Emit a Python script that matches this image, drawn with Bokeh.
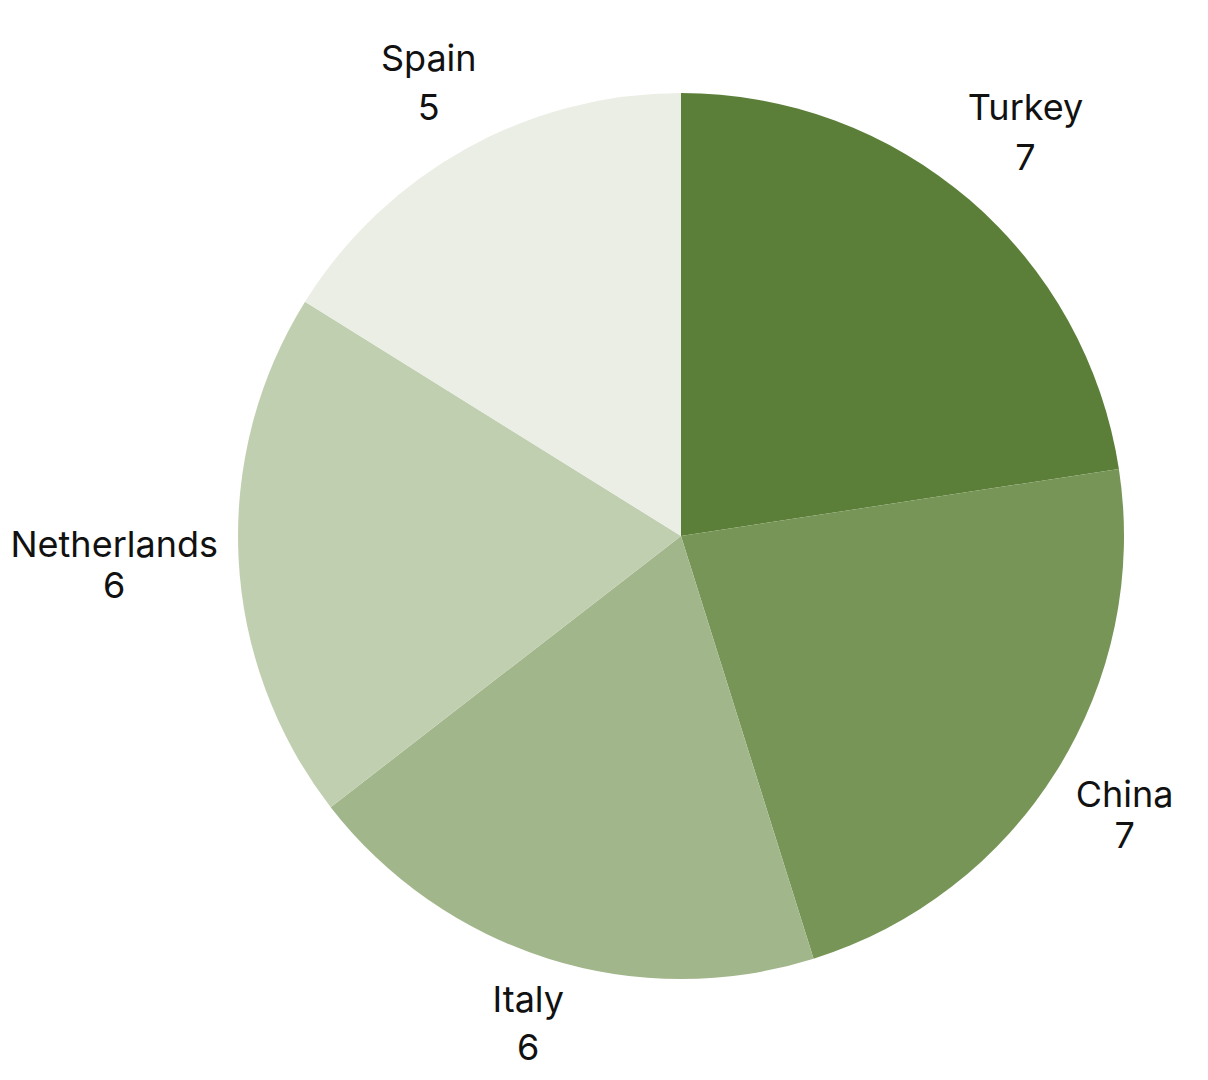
import math
from bokeh.plotting import figure
from bokeh.models import Range1d, ColumnDataSource
from bokeh.core.properties import value
from bokeh.embed import file_html
from bokeh.resources import INLINE

# ---- data ----
countries = ["Turkey", "China", "Italy", "Netherlands", "Spain"]
counts = [7, 7, 6, 6, 5]
colors = ["#5b7f38", "#779556", "#a2b68b", "#c1cfb1", "#ebeee5"]

# ---- layout / style ----
W, H = 1192, 1064
CX, CY = 680.5, H - 535.5   # pie centre (plot units = pixels)
R = 443.0
label_r = [1.18, 1.196, 1.182, 1.281, 1.15]   # label radius factors
label_dx = [4, -6, 4, 0, -5]                  # small label nudges (px)
label_dy = [7, 2, 13, 0, 8]
line_gap = [50, 41, 48, 41, 49]                # gap between name and value lines
FONT = "Inter"
FSIZE = "36px"

total = float(sum(counts))
starts, ends, mids = [], [], []
cum = 0.0
for c in counts:
    a0 = 90.0 - cum / total * 360.0
    cum += c
    a1 = 90.0 - cum / total * 360.0
    starts.append(math.radians(a0))
    ends.append(math.radians(a1))
    mids.append(math.radians((a0 + a1) / 2.0))

src = ColumnDataSource(dict(country=countries, count=counts, color=colors,
                            start=starts, end=ends,
                            x=[CX] * len(counts), y=[CY] * len(counts)))

p = figure(width=W, height=H, x_range=Range1d(0, W), y_range=Range1d(0, H),
           output_backend="svg", toolbar_location=None, min_border=0)
p.axis.visible = False
p.grid.visible = False
p.outline_line_color = None
p.background_fill_color = "white"
p.border_fill_color = "white"

p.wedge(x="x", y="y", radius=R, start_angle="start", end_angle="end",
        direction="clock", fill_color="color", line_color=None, source=src)

name_x, name_y, val_y = [], [], []
for m, rf, g, dx, dy in zip(mids, label_r, line_gap, label_dx, label_dy):
    ax = CX + rf * R * math.cos(m) + dx
    ay = CY + rf * R * math.sin(m) + dy
    name_x.append(ax)
    name_y.append(ay + g / 2.0)
    val_y.append(ay - g / 2.0)

lsrc = ColumnDataSource(dict(x=name_x, ny=name_y, vy=val_y, name=countries,
                             val=[str(c) for c in counts]))
p.text(x="x", y="ny", text="name", source=lsrc, text_align="center",
       text_baseline="alphabetic", text_font=value(FONT), text_font_size=FSIZE,
       text_color="#111111")
p.text(x="x", y="vy", text="val", source=lsrc, text_align="center",
       text_baseline="alphabetic", text_font=value(FONT), text_font_size=FSIZE,
       text_color="#111111")

open("out.html", "w").write(file_html(p, INLINE))
